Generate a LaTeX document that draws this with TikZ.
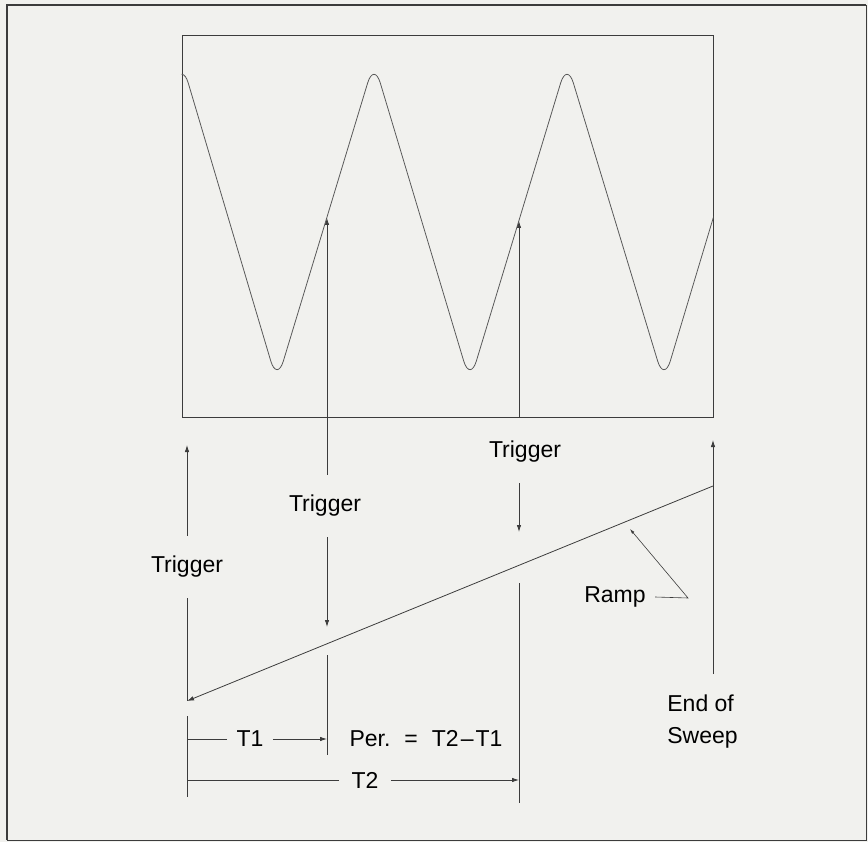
\documentclass[tikz,border=0pt]{standalone}
\usepackage{fontspec}
\setmainfont{Liberation Sans}
\usetikzlibrary{arrows.meta}
\definecolor{paper}{RGB}{241,241,238}
\definecolor{ink}{RGB}{60,60,60}
\tikzset{
	lbl/.style={font=\fontsize{23}{32}\selectfont, text=black, inner sep=2pt},
	trig/.style={lbl, inner ysep=20pt},
	dimlbl/.style={lbl, inner xsep=10pt},
	wave/.style={line width=0.8pt, color=ink!85, rounded corners=22pt}
}
\begin{document}
\begin{tikzpicture}[x=1pt,y=-1pt,>={Latex[length=7pt,width=4.5pt]},line width=0.8pt,color=ink]
	\useasboundingbox (0,0) rectangle (868,842);
	\fill[paper] (0,0) rectangle (868,842);
	\draw[line width=2pt] (7,840) -- (7,5) -- (866,5);
	\draw[line width=0.5pt] (866,5) -- (866,840) -- (7,840);
	% screen and trace
	\node[draw, inner sep=0pt, minimum width=531pt, minimum height=382pt] (screen) at (447.5,226) {};
	\begin{scope}
		\clip (screen.south west) rectangle (screen.north east);
		\draw[wave] (85,382) -- (182,62) -- (277,382) -- (374,62) -- (470,382) -- (567,62) -- (664,382) -- (760,62);
	\end{scope}
	\coordinate (wB) at (327,218);
	\coordinate (wC) at (519,221);
	\coordinate (topA) at (187,445);
	\coordinate (topD) at (713,440);
	\coordinate (rs) at (187,701);
	\coordinate (re) at (713,486);
	\coordinate (tipB) at (327,627);
	\coordinate (tipC) at (519,532);
	\coordinate (a1) at (187,716);
	\coordinate (a2) at (187,797);
	\coordinate (b1) at (327,655);
	\coordinate (b2) at (327,755);
	\coordinate (c1) at (519,583);
	\coordinate (c2) at (519,803);
	\coordinate (rbend) at (688,598);
	\coordinate (rtip) at (630,529);
	% labels
	\node[trig] (trigA) at (187,567) {Trigger};
	\node[trig] (trigB) at (325,506) {Trigger};
	\node[trig] (trigC) at (525,452) {Trigger};
	\node[lbl, inner xsep=9pt] (ramplbl) at (615,597) {Ramp};
	\node[lbl, align=left, anchor=north west, inner ysep=20pt] (eos) at (665,674) {End of\\Sweep};
	\node[dimlbl, inner xsep=9pt] (T1) at (250,739) {T1};
	\node[dimlbl, inner xsep=12pt] (T2) at (365,780) {T2};
	\node[lbl] (per) at (426,739) {Per.\hspace{14pt}=\hspace{14pt}T2\hspace{2pt}--\hspace{2pt}T1};
	% trigger lines
	\draw[->] (trigA) -- (topA);
	\draw (trigA) -- (rs);
	\draw (a1) -- (a2);
	\draw[->] (trigB.north -| wB) -- (wB);
	\draw[->] (trigB.south -| wB) -- (tipB);
	\draw (b1) -- (b2);
	\draw[->] (screen.south -| wC) -- (wC);
	\draw[->] (trigC.south -| wC) -- (tipC);
	\draw (c1) -- (c2);
	\draw[->] (eos.north -| topD) -- (topD);
	% ramp
	\draw[<-] (rs) -- (re);
	\draw[-{Latex[length=5pt,width=3pt]}, line width=0.6pt] (ramplbl.east) -- (rbend) -- (rtip);
	% times
	\draw (T1) -- (T1 -| rs);
	\draw[->] (T1) -- (T1 -| b1);
	\draw (T2) -- (T2 -| rs);
	\draw[->] (T2) -- (T2 -| c1);
\end{tikzpicture}
\end{document}
